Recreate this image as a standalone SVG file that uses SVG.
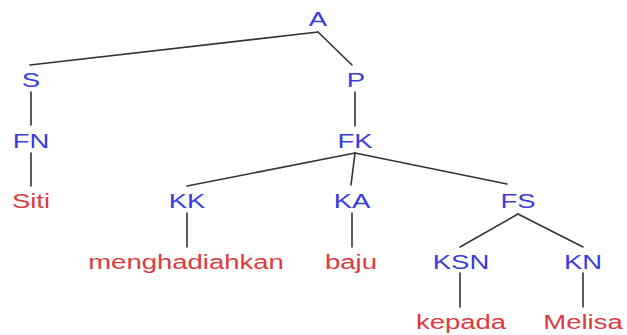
<svg xmlns="http://www.w3.org/2000/svg" width="627" height="335" viewBox="0 0 627 335">
<style>
text{font-family:"Liberation Sans",Arial,sans-serif;font-size:19.5px;text-anchor:middle}
.cat{fill:#3c3cdc}
.word{fill:#dc3a40}
.edges line{stroke:#333;stroke-width:1.6;stroke-linecap:round}
</style>
<rect width="627" height="335" fill="#fff"/>
<g class="edges" id="connectors">
<line x1="318" y1="32" x2="30" y2="65"/>
<line x1="318" y1="32" x2="352" y2="65"/>
<line x1="31" y1="92" x2="31" y2="125"/>
<line x1="355" y1="92" x2="355" y2="126"/>
<line x1="31" y1="153" x2="31" y2="186"/>
<line x1="355" y1="153" x2="187" y2="186"/>
<line x1="355" y1="153" x2="351" y2="185"/>
<line x1="355" y1="153" x2="507" y2="184"/>
<line x1="187" y1="213" x2="187" y2="247"/>
<line x1="352" y1="213" x2="352" y2="247"/>
<line x1="518" y1="214" x2="460" y2="247"/>
<line x1="518" y1="214" x2="583" y2="247"/>
<line x1="460" y1="273" x2="460" y2="307"/>
<line x1="583" y1="273" x2="583" y2="307"/>
</g>
<g id="n-A"><text class="cat" transform="translate(318,26) scale(1.41,1)">A</text></g>
<g id="n-S"><text class="cat" transform="translate(31,87) scale(1.41,1)">S</text></g>
<g id="n-P"><text class="cat" transform="translate(356,87) scale(1.41,1)">P</text></g>
<g id="n-FN"><text class="cat" transform="translate(31,147.5) scale(1.41,1)">FN</text></g>
<g id="n-FK"><text class="cat" transform="translate(355,147.5) scale(1.41,1)">FK</text></g>
<g id="n-Siti"><text class="word" transform="translate(31,208) scale(1.41,1)">Siti</text></g>
<g id="n-KK"><text class="cat" transform="translate(187,208) scale(1.41,1)">KK</text></g>
<g id="n-KA"><text class="cat" transform="translate(352,208) scale(1.41,1)">KA</text></g>
<g id="n-FS"><text class="cat" transform="translate(518,208) scale(1.41,1)">FS</text></g>
<g id="n-menghadiahkan"><text class="word" transform="translate(186,269) scale(1.41,1)">menghadiahkan</text></g>
<g id="n-baju"><text class="word" transform="translate(351,269) scale(1.41,1)">baju</text></g>
<g id="n-KSN"><text class="cat" transform="translate(461,268.5) scale(1.41,1)">KSN</text></g>
<g id="n-KN"><text class="cat" transform="translate(583,268.5) scale(1.41,1)">KN</text></g>
<g id="n-kepada"><text class="word" transform="translate(461,328.5) scale(1.41,1)">kepada</text></g>
<g id="n-Melisa"><text class="word" transform="translate(583,328.5) scale(1.41,1)">Melisa</text></g>
</svg>
